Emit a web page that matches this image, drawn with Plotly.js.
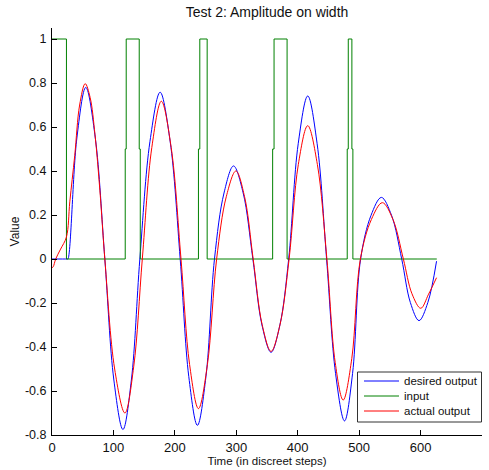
<!DOCTYPE html>
<html>
<head>
<meta charset="utf-8">
<script src="https://cdn.plot.ly/plotly-3.0.1.min.js"></script>
<style>
  html, body { margin: 0; padding: 0; background: #fff; }
  #chart { width: 489px; height: 470px; }
</style>
</head>
<body>
<div id="chart"></div>
<script>
// Desired output: level until the first pulse ends, then a sine whose
// amplitude follows the width of the preceding input pulse.
const desiredT = [0, 25, 26, 40.5, 55, 70.5, 86, 100.7, 115.5, 129.2, 143,
  159.5, 176, 192.3, 208.7, 222.7, 236.7, 250.6, 264.5, 280, 295.5, 311.2, 327,
  341.8, 356.6, 371, 385.3, 400.8, 416.3, 431.6, 447, 461.6, 476.2, 489.3, 502.4,
  519.3, 536.2, 552.8, 569.3, 583.4, 597.5, 611.8, 626];
const desiredV = [0, 0, 0, 0.55, 0.78, 0.55, 0, -0.55, -0.775, -0.55, 0,
  0.535, 0.758, 0.535, 0, -0.535, -0.756, -0.535, 0, 0.3, 0.423, 0.3, 0,
  -0.3, -0.424, -0.3, 0, 0.524, 0.741, 0.524, 0, -0.52, -0.736, -0.52, 0,
  0.198, 0.28, 0.198, 0, -0.198, -0.28, -0.198, -0.01];

// Input pulses: times where the level changes, and the level from that time on.
const inputT = [0, 23.5, 119.2, 120.8, 142, 143.7, 238.4, 240.6, 252.6,
  359.2, 361.5, 382.7, 480.6, 482.3, 488.2, 489.8, 626.4];
const inputV = [1, 0, 0.5, 1, 0.5, 0, 0.5, 1, 0, 0.5, 1, 0, 0.5, 1, 0.5, 0, 0];

// Network response.
const actualT = [0, 2, 6, 14, 23.5, 29, 37, 45, 54, 62, 70, 78, 86, 102,
  118.7, 133, 147, 162.5, 178, 194, 210, 224, 238.4, 253, 268, 283.7, 299.4,
  313.5, 327.5, 342, 356.6, 371.3, 386, 401, 416.3, 432, 447.5, 461, 474, 488,
  502, 520, 537.8, 555, 572, 586, 600.3, 613, 626];
const actualV = [-0.04, -0.035, 0, 0.045, 0.1, 0.26, 0.47, 0.7, 0.797, 0.735,
  0.565, 0.31, 0, -0.5, -0.7, -0.49, 0, 0.507, 0.717, 0.507, 0, -0.48, -0.68,
  -0.48, 0, 0.283, 0.4, 0.283, 0, -0.297, -0.42, -0.297, 0, 0.43, 0.606, 0.43,
  0, -0.47, -0.641, -0.453, 0, 0.18, 0.256, 0.18, 0, -0.158, -0.224, -0.16,
  -0.085];

const seriesNames = ['desired output', 'input', 'actual output'];
const seriesColors = ['#0000ff', '#008000', '#ff0000'];
const xTicks = [0, 100, 200, 300, 400, 500, 600, 700];
const xTickText = ['0', '100', '200', '300', '400', '500', '600', '700'];
const yTicks = [-0.8, -0.6, -0.4, -0.2, 0, 0.2, 0.4, 0.6, 0.8, 1];
const yTickText = ['-0.8', '-0.6', '-0.4', '-0.2', '0', '0.2', '0.4', '0.6', '0.8', '1'];

const FONT = '"Liberation Sans", Arial, Helvetica, sans-serif';
const W = 489, H = 470;
const M = { l: 52, r: 7, t: 28, b: 35 };
const plotW = W - M.l - M.r, plotH = H - M.t - M.b;
// pixel position -> paper fraction (for the boxed legend in the lower right)
const px = v => (v - M.l) / plotW;
const py = v => (H - M.b - v) / plotH;

const traces = [
  {
    x: desiredT, y: desiredV, name: seriesNames[0], type: 'scatter', mode: 'lines',
    line: { color: seriesColors[0], width: 1, shape: 'spline', smoothing: 1 }
  },
  {
    x: inputT, y: inputV, name: seriesNames[1], type: 'scatter', mode: 'lines',
    line: { color: seriesColors[1], width: 1, shape: 'hv' }
  },
  {
    x: actualT, y: actualV, name: seriesNames[2], type: 'scatter', mode: 'lines',
    line: { color: seriesColors[2], width: 1, shape: 'spline', smoothing: 1 }
  }
];

// Legend: framed box with a short line sample and the series name per row.
const legendBox = { left: 357.5, right: 481.5, top: 372, bottom: 422 };
const rowY = [381, 396, 411];
const shapes = [{
  type: 'rect', xref: 'paper', yref: 'paper', layer: 'above',
  x0: px(legendBox.left), x1: px(legendBox.right),
  y0: py(legendBox.bottom), y1: py(legendBox.top),
  line: { color: '#333', width: 1 }, fillcolor: '#fff'
}];
const annotations = [];
seriesNames.forEach((name, i) => {
  shapes.push({
    type: 'line', xref: 'paper', yref: 'paper', layer: 'above',
    x0: px(364), x1: px(399), y0: py(rowY[i]), y1: py(rowY[i]),
    line: { color: seriesColors[i], width: 1 }
  });
  annotations.push({
    xref: 'paper', yref: 'paper', x: px(402), y: py(rowY[i]),
    xanchor: 'left', yanchor: 'middle', showarrow: false, text: name,
    font: { family: FONT, size: 11.5, color: '#111' }
  });
});

const axisCommon = {
  showgrid: false, zeroline: false, showline: true, linecolor: '#000', linewidth: 1,
  ticks: 'inside', ticklen: 5, tickwidth: 1, tickcolor: '#000', tickmode: 'array'
};

const layout = {
  width: W, height: H,
  margin: M,
  paper_bgcolor: '#fff', plot_bgcolor: '#fff',
  font: { family: FONT, size: 12, color: '#111' },
  title: {
    text: 'Test 2: Amplitude on width',
    font: { family: FONT, size: 14, color: '#111' },
    x: 0.5, xref: 'paper', y: 1 - 12 / H, yref: 'container', yanchor: 'middle'
  },
  xaxis: Object.assign({}, axisCommon, {
    range: [0, 700], tickvals: xTicks, ticktext: xTickText,
    tickfont: { family: FONT, size: 13, color: '#111' },
    ticklabelstandoff: 0,
    title: { text: 'Time (in discreet steps)', font: { family: FONT, size: 11.5, color: '#111' }, standoff: 3 }
  }),
  yaxis: Object.assign({}, axisCommon, {
    range: [-0.8, 1.05], tickvals: yTicks, ticktext: yTickText,
    tickfont: { family: FONT, size: 12.5, color: '#111' },
    ticklabelstandoff: 2,
    title: { text: 'Value', font: { family: FONT, size: 12, color: '#111' }, standoff: 2 }
  }),
  showlegend: false,
  shapes: shapes,
  annotations: annotations
};

Plotly.newPlot('chart', traces, layout, { displayModeBar: false, staticPlot: true });
</script>
</body>
</html>
